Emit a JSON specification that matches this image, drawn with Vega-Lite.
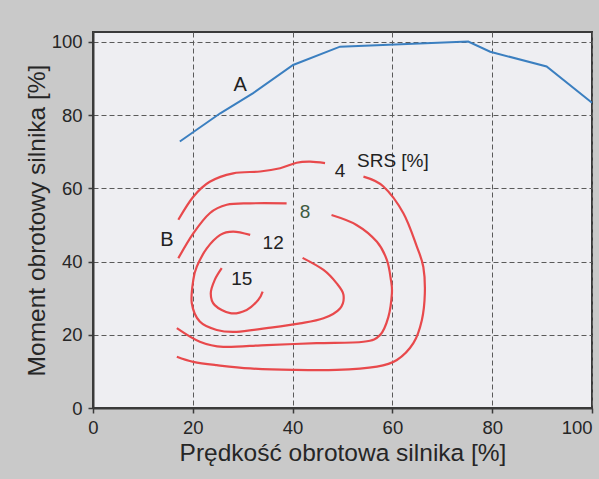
{
  "$schema": "https://vega.github.io/schema/vega-lite/v6.json",
  "width": 499,
  "height": 376,
  "autosize": {"type": "none"},
  "padding": {"left": 93, "top": 32, "right": 7, "bottom": 71},
  "background": "#c9c9c9",
  "config": {
    "font": "Liberation Sans",
    "view": {"fill": "#eeeef2", "stroke": "#3a3a3a", "strokeWidth": 2},
    "axis": {
      "domainColor": "#3a3a3a",
      "domainWidth": 2,
      "tickColor": "#3a3a3a",
      "tickSize": 5,
      "tickWidth": 1.5,
      "labelFont": "Liberation Sans",
      "labelFontSize": 18.5,
      "labelColor": "#262626",
      "titleFont": "Liberation Sans",
      "titleFontSize": 24.5,
      "titleFontWeight": "normal",
      "titleColor": "#262626",
      "grid": true,
      "gridColor": "#5a5a5a",
      "gridDash": [5, 3],
      "gridWidth": 1
    }
  },
  "datasets": {
    "srs": [
      {"c": "4a", "i": 1, "x": 17.1, "y": 51.4},
      {"c": "4a", "i": 2, "x": 20.1, "y": 57.7},
      {"c": "4a", "i": 3, "x": 23.4, "y": 61.8},
      {"c": "4a", "i": 4, "x": 28.1, "y": 64.1},
      {"c": "4a", "i": 5, "x": 33.5, "y": 64.6},
      {"c": "4a", "i": 6, "x": 37.5, "y": 65.5},
      {"c": "4a", "i": 7, "x": 40.8, "y": 67.0},
      {"c": "4a", "i": 8, "x": 43.5, "y": 67.3},
      {"c": "4a", "i": 9, "x": 46.5, "y": 66.9},
      {"c": "4b", "i": 1, "x": 54.2, "y": 63.2},
      {"c": "4b", "i": 2, "x": 58.2, "y": 60.5},
      {"c": "4b", "i": 3, "x": 62.2, "y": 53.2},
      {"c": "4b", "i": 4, "x": 64.9, "y": 44.1},
      {"c": "4b", "i": 5, "x": 66.2, "y": 38.5},
      {"c": "4b", "i": 6, "x": 66.5, "y": 31.3},
      {"c": "4b", "i": 7, "x": 65.9, "y": 24.0},
      {"c": "4b", "i": 8, "x": 64.2, "y": 17.7},
      {"c": "4b", "i": 9, "x": 60.9, "y": 13.1},
      {"c": "4b", "i": 10, "x": 56.9, "y": 11.3},
      {"c": "4b", "i": 11, "x": 48.8, "y": 10.4},
      {"c": "4b", "i": 12, "x": 40.1, "y": 10.4},
      {"c": "4b", "i": 13, "x": 31.5, "y": 10.8},
      {"c": "4b", "i": 14, "x": 24.8, "y": 11.7},
      {"c": "4b", "i": 15, "x": 20.1, "y": 12.6},
      {"c": "4b", "i": 16, "x": 16.8, "y": 14.0},
      {"c": "8a", "i": 1, "x": 17.1, "y": 40.9},
      {"c": "8a", "i": 2, "x": 20.1, "y": 47.7},
      {"c": "8a", "i": 3, "x": 23.4, "y": 53.2},
      {"c": "8a", "i": 4, "x": 26.8, "y": 55.5},
      {"c": "8a", "i": 5, "x": 31.5, "y": 55.9},
      {"c": "8a", "i": 6, "x": 38.8, "y": 55.9},
      {"c": "8b", "i": 1, "x": 47.8, "y": 52.7},
      {"c": "8b", "i": 2, "x": 52.8, "y": 50.0},
      {"c": "8b", "i": 3, "x": 56.9, "y": 45.4},
      {"c": "8b", "i": 4, "x": 58.9, "y": 40.4},
      {"c": "8b", "i": 5, "x": 59.7, "y": 35.0},
      {"c": "8b", "i": 6, "x": 59.9, "y": 31.3},
      {"c": "8b", "i": 7, "x": 59.2, "y": 24.9},
      {"c": "8b", "i": 8, "x": 57.5, "y": 19.9},
      {"c": "8b", "i": 9, "x": 54.2, "y": 18.1},
      {"c": "8b", "i": 10, "x": 44.8, "y": 17.7},
      {"c": "8b", "i": 11, "x": 34.8, "y": 17.2},
      {"c": "8b", "i": 12, "x": 26.1, "y": 16.7},
      {"c": "8b", "i": 13, "x": 21.4, "y": 18.1},
      {"c": "8b", "i": 14, "x": 16.8, "y": 21.8},
      {"c": "12", "i": 1, "x": 31.5, "y": 47.3},
      {"c": "12", "i": 2, "x": 28.1, "y": 48.2},
      {"c": "12", "i": 3, "x": 25.5, "y": 47.3},
      {"c": "12", "i": 4, "x": 22.8, "y": 43.6},
      {"c": "12", "i": 5, "x": 20.8, "y": 38.6},
      {"c": "12", "i": 6, "x": 20.1, "y": 35.0},
      {"c": "12", "i": 7, "x": 19.8, "y": 28.6},
      {"c": "12", "i": 8, "x": 21.4, "y": 23.6},
      {"c": "12", "i": 9, "x": 24.8, "y": 21.3},
      {"c": "12", "i": 10, "x": 28.8, "y": 20.8},
      {"c": "12", "i": 11, "x": 34.8, "y": 21.8},
      {"c": "12", "i": 12, "x": 41.5, "y": 23.1},
      {"c": "12", "i": 13, "x": 46.2, "y": 24.5},
      {"c": "12", "i": 14, "x": 49.5, "y": 27.2},
      {"c": "12", "i": 15, "x": 50.2, "y": 30.9},
      {"c": "12", "i": 16, "x": 48.8, "y": 34.1},
      {"c": "12", "i": 17, "x": 46.2, "y": 37.7},
      {"c": "12", "i": 18, "x": 42.0, "y": 41.0},
      {"c": "15", "i": 1, "x": 25.8, "y": 38.2},
      {"c": "15", "i": 2, "x": 24.4, "y": 35.0},
      {"c": "15", "i": 3, "x": 23.6, "y": 31.3},
      {"c": "15", "i": 4, "x": 24.4, "y": 28.1},
      {"c": "15", "i": 5, "x": 27.5, "y": 25.9},
      {"c": "15", "i": 6, "x": 30.8, "y": 26.8},
      {"c": "15", "i": 7, "x": 33.1, "y": 29.5},
      {"c": "15", "i": 8, "x": 34.0, "y": 31.8}
    ],
    "lineA": [
      {"i": 1, "x": 17.4, "y": 72.8},
      {"i": 2, "x": 25.5, "y": 80.5},
      {"i": 3, "x": 32.1, "y": 86.0},
      {"i": 4, "x": 40.1, "y": 93.7},
      {"i": 5, "x": 49.5, "y": 98.7},
      {"i": 6, "x": 75.2, "y": 100.1},
      {"i": 7, "x": 79.6, "y": 97.3},
      {"i": 8, "x": 90.9, "y": 93.3},
      {"i": 9, "x": 100.0, "y": 83.4}
    ],
    "labels": [
      {"t": "A", "x": 29.5, "y": 88.3},
      {"t": "B", "x": 14.8, "y": 45.9},
      {"t": "4", "x": 49.5, "y": 64.6},
      {"t": "SRS [%]", "x": 60.1, "y": 67.5},
      {"t": "8", "x": 42.5, "y": 53.4},
      {"t": "12", "x": 36.1, "y": 45.0},
      {"t": "15", "x": 29.8, "y": 35.2}
    ]
  },
  "encoding": {
    "x": {
      "field": "x",
      "type": "quantitative",
      "scale": {"domain": [0, 100], "nice": false, "zero": false},
      "axis": {
        "title": "Prędkość obrotowa silnika [%]",
        "values": [0, 20, 40, 60, 80, 100],
        "labelPadding": 5,
        "titlePadding": 5,
        "labelAlign": {"condition": {"test": "datum.value == 100", "value": "right"}, "value": "center"},
        "labelDx": {"condition": {"test": "datum.value == 100", "value": 4}, "value": 0}
      }
    },
    "y": {
      "field": "y",
      "type": "quantitative",
      "scale": {"domain": [0, 102.7], "nice": false, "zero": false},
      "axis": {
        "title": "Moment obrotowy silnika [%]",
        "values": [0, 20, 40, 60, 80, 100],
        "labelPadding": 6,
        "titlePadding": 2
      }
    }
  },
  "layer": [
    {
      "data": {"name": "srs"},
      "mark": {"type": "line", "interpolate": "cardinal", "color": "#e8494c", "strokeWidth": 2.2},
      "encoding": {
        "detail": {"field": "c", "type": "nominal"},
        "order": {"field": "i", "type": "quantitative"}
      }
    },
    {
      "data": {"name": "lineA"},
      "mark": {"type": "line", "color": "#3b7fc0", "strokeWidth": 2},
      "encoding": {
        "order": {"field": "i", "type": "quantitative"}
      }
    },
    {
      "data": {"name": "labels"},
      "mark": {"type": "text", "align": "center", "baseline": "middle", "font": "Liberation Sans"},
      "encoding": {
        "text": {"field": "t", "type": "nominal"},
        "color": {"condition": {"test": "datum.t == '8'", "value": "#3d5a40"}, "value": "#222222"},
        "size": {"condition": {"test": "datum.t == 'A' || datum.t == 'B'", "value": 20}, "value": 19}
      }
    }
  ]
}
